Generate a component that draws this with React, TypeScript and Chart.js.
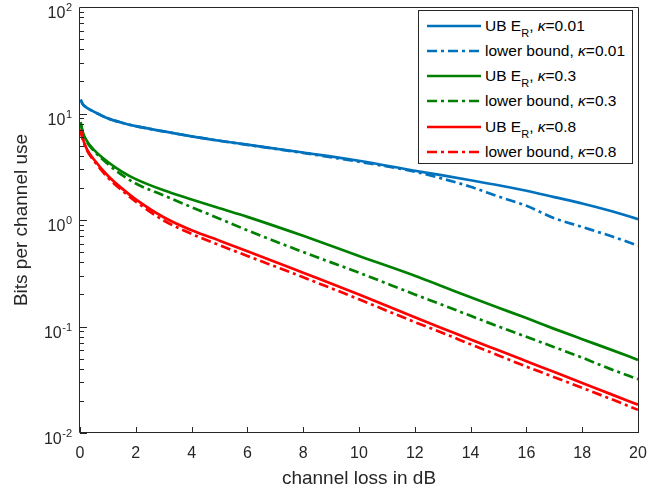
import React, { useEffect, useRef } from 'react';
import { Chart, registerables } from 'chart.js';

Chart.register(...registerables);

// ---------- data ----------
const channelLossDb = [0.02, 0.1, 0.25, 0.5, 1, 1.5, 2, 3, 4, 5, 6, 8, 10, 12, 13, 14, 15, 16, 17, 18, 19, 20];
const ubKappa001 = [13.5, 12.2, 11.3, 10.4, 9.0, 8.2, 7.6, 6.8, 6.1, 5.55, 5.1, 4.3, 3.6, 2.9, 2.62, 2.36, 2.12, 1.88, 1.64, 1.43, 1.22, 1.02];
const lbKappa001 = [13.5, 12.2, 11.3, 10.4, 9.0, 8.2, 7.6, 6.8, 6.1, 5.55, 5.08, 4.26, 3.52, 2.84, 2.44, 2.05, 1.66, 1.36, 1.04, 0.86, 0.71, 0.575];
const ubKappa03 = [8.3, 6.7, 5.5, 4.55, 3.5, 2.85, 2.42, 1.9, 1.56, 1.29, 1.07, 0.71, 0.46, 0.3, 0.238, 0.188, 0.15, 0.12, 0.095, 0.076, 0.061, 0.0486];
const lbKappa03 = [8.2, 6.6, 5.4, 4.45, 3.35, 2.65, 2.2, 1.7, 1.32, 1.03, 0.8, 0.5, 0.32, 0.2, 0.159, 0.126, 0.1, 0.08, 0.064, 0.051, 0.04, 0.032];
const ubKappa08 = [7.1, 5.8, 4.6, 3.7, 2.6, 1.98, 1.56, 1.06, 0.8, 0.64, 0.51, 0.32, 0.2, 0.122, 0.096, 0.0754, 0.0597, 0.0472, 0.0373, 0.0295, 0.0233, 0.0184];
const lbKappa08 = [7.0, 5.7, 4.5, 3.6, 2.5, 1.9, 1.49, 0.99, 0.74, 0.58, 0.46, 0.29, 0.18, 0.11, 0.087, 0.068, 0.0535, 0.042, 0.0334, 0.0265, 0.021, 0.0165];

const kappaLabels = ['0.01', '0.3', '0.8'];
const xTickValues = [0, 2, 4, 6, 8, 10, 12, 14, 16, 18, 20];
const yDecadeExponents = [-2, -1, 0, 1, 2];
const xAxisTitle = 'channel loss in dB';
const yAxisTitle = 'Bits per channel use';

// ---------- styles ----------
const FONT = '"Liberation Sans", Arial, Helvetica, sans-serif';
const AXIS_COLOR = '#262626';
const COLORS = ['#0072BD', '#008000', '#FF0000'];
const DASH = [10, 4, 3, 4];
const LINE_W = 2.7;

type Series = { values: number[]; colorIdx: number; lower: boolean };
const seriesList: Series[] = [
  { values: ubKappa001, colorIdx: 0, lower: false },
  { values: lbKappa001, colorIdx: 0, lower: true },
  { values: ubKappa03, colorIdx: 1, lower: false },
  { values: lbKappa03, colorIdx: 1, lower: true },
  { values: ubKappa08, colorIdx: 2, lower: false },
  { values: lbKappa08, colorIdx: 2, lower: true },
];

const framePlugin = {
  id: 'matlabFrame',
  afterDraw(chart: any) {
    const { ctx, chartArea: a, scales } = chart;
    const xs = scales.x;
    const ys = scales.y;
    ctx.save();
    ctx.strokeStyle = AXIS_COLOR;
    ctx.lineWidth = 1;
    ctx.beginPath();
    ctx.moveTo(a.left - 0.5, a.top + 0.5);
    ctx.lineTo(a.right + 0.5, a.top + 0.5);
    ctx.lineTo(a.right + 0.5, a.bottom - 0.5);
    ctx.lineTo(a.left - 0.5, a.bottom - 0.5);
    ctx.closePath();
    ctx.stroke();

    // y ticks (major + minor), inward
    ctx.beginPath();
    for (const e of yDecadeExponents) {
      const maxM = e === yDecadeExponents[yDecadeExponents.length - 1] ? 1 : 9;
      for (let m = 1; m <= maxM; m++) {
        const py = Math.round(ys.getPixelForValue(m * Math.pow(10, e))) + 0.5;
        const len = m === 1 ? 7 : 4;
        ctx.moveTo(a.left, py);
        ctx.lineTo(a.left + len, py);
      }
    }
    // x ticks, inward
    for (const t of xTickValues) {
      const px = Math.round(xs.getPixelForValue(t)) + 0.5;
      ctx.moveTo(px, a.bottom);
      ctx.lineTo(px, a.bottom - 6);
    }
    ctx.stroke();

    // y tick labels 10^e
    ctx.fillStyle = AXIS_COLOR;
    ctx.textBaseline = 'middle';
    ctx.textAlign = 'right';
    const rightEdge = a.left - 8;
    for (const e of yDecadeExponents) {
      const py = ys.getPixelForValue(Math.pow(10, e));
      const expText = e < 0 ? '-' + Math.abs(e) : String(e);
      ctx.font = `11px ${FONT}`;
      const expW = ctx.measureText(expText).width;
      ctx.fillText(expText, rightEdge, py + 1);
      ctx.font = `16px ${FONT}`;
      ctx.fillText('10', rightEdge - expW - 0.5, py + 7);
    }
    ctx.restore();
  },
};

function LegendBox() {
  const rows = seriesList.map((s, i) => ({
    color: COLORS[s.colorIdx],
    lower: s.lower,
    kappa: kappaLabels[s.colorIdx],
    y: 26 + i * 25.15,
  }));
  return (
    <div
      style={{
        position: 'absolute',
        left: 418,
        top: 10,
        width: 215,
        height: 154,
        border: '1px solid #262626',
        background: '#fff',
        boxSizing: 'border-box',
      }}
    >
      {rows.map((r, i) => (
        <div
          key={i}
          style={{
            position: 'absolute',
            left: 0,
            top: r.y - 21,
            height: 20,
            width: 213,
          }}
        >
          <svg width={54} height={8} style={{ position: 'absolute', left: 8, top: 6 }}>
            <line
              x1={0}
              y1={4}
              x2={54}
              y2={4}
              stroke={r.color}
              strokeWidth={LINE_W}
              strokeDasharray={r.lower ? DASH.join(' ') : undefined}
            />
          </svg>
          <span
            style={{
              position: 'absolute',
              left: 66,
              top: 0,
              lineHeight: '20px',
              fontFamily: FONT,
              fontSize: 15.5,
              color: '#000',
              whiteSpace: 'nowrap',
            }}
          >
            {r.lower ? (
              <>lower bound, <i>κ</i>={r.kappa}</>
            ) : (
              <>
                UB E
                <span style={{ fontSize: 11, verticalAlign: -6, lineHeight: 0 }}>R</span>, <i>κ</i>={r.kappa}
              </>
            )}
          </span>
        </div>
      ))}
    </div>
  );
}

export default function App() {
  const canvasRef = useRef<HTMLCanvasElement | null>(null);

  useEffect(() => {
    if (!canvasRef.current) return;
    const datasets = seriesList.map((s, i) => ({
      label: `series${i}`,
      data: channelLossDb.map((x, j) => ({ x, y: s.values[j] })),
      borderColor: COLORS[s.colorIdx],
      backgroundColor: COLORS[s.colorIdx],
      borderWidth: LINE_W,
      borderDash: s.lower ? DASH : [],
      pointRadius: 0,
      fill: false,
      cubicInterpolationMode: 'monotone' as const,
      order: seriesList.length - i,
    }));

    const chart = new Chart(canvasRef.current, {
      type: 'line',
      data: { datasets },
      options: {
        animation: false,
        responsive: false,
        maintainAspectRatio: false,
        devicePixelRatio: 1,
        layout: { padding: { left: 8, right: 34, top: 7, bottom: 0 } },
        plugins: { legend: { display: false }, tooltip: { enabled: false }, title: { display: false } },
        scales: {
          x: {
            type: 'linear',
            min: 0,
            max: 20,
            grid: { display: false, drawTicks: false },
            border: { display: false },
            afterBuildTicks: (scale: any) => {
              scale.ticks = xTickValues.map((v) => ({ value: v }));
            },
            afterFit: (scale: any) => {
              scale.height = 58;
            },
            ticks: {
              font: { family: FONT, size: 16 },
              color: AXIS_COLOR,
              padding: 11,
              maxRotation: 0,
              autoSkip: false,
            },
            title: {
              display: true,
              text: xAxisTitle,
              font: { family: FONT, size: 19 },
              color: AXIS_COLOR,
              padding: { top: 0, bottom: 1 },
            },
          },
          y: {
            type: 'logarithmic',
            min: 0.01,
            max: 100,
            grid: { display: false, drawTicks: false },
            border: { display: false },
            afterBuildTicks: (scale: any) => {
              scale.ticks = yDecadeExponents.map((e) => ({ value: Math.pow(10, e) }));
            },
            afterFit: (scale: any) => {
              scale.width = 72;
            },
            ticks: { display: false },
            title: {
              display: true,
              text: yAxisTitle,
              font: { family: FONT, size: 19 },
              color: AXIS_COLOR,
              padding: { top: 2, bottom: 0 },
            },
          },
        },
      },
      plugins: [framePlugin],
    });
    return () => chart.destroy();
  }, []);

  return (
    <div style={{ position: 'absolute', left: 0, top: 0, width: 672, height: 491, background: '#fff' }}>
      <canvas ref={canvasRef} width={672} height={491} style={{ display: 'block' }} />
      <LegendBox />
    </div>
  );
}
